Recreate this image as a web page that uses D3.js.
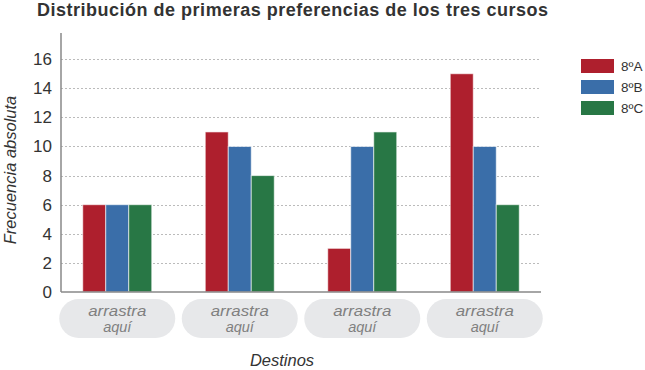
<!DOCTYPE html>
<html>
<head>
<meta charset="utf-8">
<script src="https://cdn.jsdelivr.net/npm/d3@7"></script>
<style>
  body { margin: 0; background: #fff; }
  text { font-family: "Liberation Sans", Arial, sans-serif; }
</style>
</head>
<body>
<div id="chart"></div>
<script>
// data
var destinos = ["d1", "d2", "d3", "d4"];
var cursos = ["8ºA", "8ºB", "8ºC"];
var valoresA = [6, 11, 3, 15];
var valoresB = [6, 10, 10, 10];
var valoresC = [6, 8, 11, 6];
var yTicks = [0, 2, 4, 6, 8, 10, 12, 14, 16];
var colores = ["#ae1f2d", "#3a6ea9", "#287745"];

var series = [valoresA, valoresB, valoresC];

var svgWidth = 645;
var svgHeight = 370;

var svg = d3.select("#chart")
  .append("svg")
  .attr("width", svgWidth)
  .attr("height", svgHeight);

// plot area
var plotLeft = 61, plotRight = 541, plotTop = 33, plotBottom = 292;

var x0 = d3.scaleBand()
  .domain(destinos)
  .range([56, 546])
  .padding(0);

var x1 = d3.scaleBand()
  .domain(d3.range(cursos.length))
  .range([0, 69])
  .padding(0);

var y = d3.scaleLinear()
  .domain([0, 17.8])
  .range([plotBottom, plotTop]);

// title
svg.append("text")
  .attr("x", 37)
  .attr("y", 16)
  .attr("font-size", "18px")
  .attr("font-weight", "bold")
  .attr("fill", "#333")
  .attr("textLength", 511)
  .attr("lengthAdjust", "spacing")
  .text("Distribución de primeras preferencias de los tres cursos");

// grid lines
svg.append("g")
  .selectAll("line")
  .data(yTicks.slice(1))
  .enter()
  .append("line")
  .attr("x1", plotLeft)
  .attr("x2", plotRight)
  .attr("y1", d => Math.round(y(d)) + 0.5)
  .attr("y2", d => Math.round(y(d)) + 0.5)
  .attr("stroke", "#bbb")
  .attr("stroke-dasharray", "2,2");

// y axis
var leftAxis = d3.axisLeft(y)
  .tickValues(yTicks)
  .tickSize(0)
  .tickPadding(9);

var yAxis = svg.append("g")
  .attr("transform", `translate(${plotLeft}, 0)`)
  .call(leftAxis);
yAxis.select(".domain").remove();
yAxis.selectAll("text")
  .attr("font-size", "17px")
  .attr("fill", "#333")
  .attr("font-family", "'Liberation Sans', Arial, sans-serif");

// bars
svg.append("g")
  .selectAll("g")
  .data(destinos)
  .enter()
  .append("g")
  .attr("transform", d => `translate(${x0(d) + x0.bandwidth() / 2 - 34.5}, 0)`)
  .selectAll("rect")
  .data((d, i) => series.map((s, j) => ({ j: j, v: s[i] })))
  .enter()
  .append("rect")
  .attr("x", d => x1(d.j))
  .attr("y", d => y(d.v))
  .attr("width", x1.bandwidth())
  .attr("height", d => y(0) - y(d.v))
  .attr("fill", d => colores[d.j])
  .attr("stroke", "rgba(255,255,255,0.6)")
  .attr("stroke-width", 1);

// axis lines
svg.append("line")
  .attr("x1", plotLeft).attr("x2", plotLeft)
  .attr("y1", plotTop).attr("y2", plotBottom)
  .attr("stroke", "#888").attr("stroke-width", 1.5);
svg.append("line")
  .attr("x1", plotLeft).attr("x2", plotRight)
  .attr("y1", plotBottom).attr("y2", plotBottom)
  .attr("stroke", "#888").attr("stroke-width", 1.5);

// drop zones
var pills = svg.append("g")
  .selectAll("g")
  .data(destinos)
  .enter()
  .append("g")
  .attr("transform", d => `translate(${x0(d) + x0.bandwidth() / 2}, 0)`);

pills.append("rect")
  .attr("x", -58)
  .attr("y", 299)
  .attr("width", 116)
  .attr("height", 39)
  .attr("rx", 19.5)
  .attr("fill", "#e7e8ea");

pills.append("text")
  .attr("y", 316)
  .attr("text-anchor", "middle")
  .attr("font-size", "14.5px")
  .attr("font-style", "italic")
  .attr("fill", "#808080")
  .attr("textLength", 58)
  .attr("lengthAdjust", "spacingAndGlyphs")
  .text("arrastra");

pills.append("text")
  .attr("y", 332)
  .attr("text-anchor", "middle")
  .attr("font-size", "14.5px")
  .attr("font-style", "italic")
  .attr("fill", "#808080")
  .text("aquí");

// axis titles
svg.append("text")
  .attr("transform", "translate(16, 170) rotate(-90)")
  .attr("text-anchor", "middle")
  .attr("font-size", "16.5px")
  .attr("font-style", "italic")
  .attr("fill", "#333")
  .text("Frecuencia absoluta");

svg.append("text")
  .attr("x", 282)
  .attr("y", 366)
  .attr("text-anchor", "middle")
  .attr("font-size", "16.5px")
  .attr("font-style", "italic")
  .attr("fill", "#333")
  .text("Destinos");

// legend
var legend = svg.append("g")
  .selectAll("g")
  .data(cursos)
  .enter()
  .append("g")
  .attr("transform", (d, i) => `translate(581, ${59 + i * 21})`);

legend.append("rect")
  .attr("width", 33)
  .attr("height", 14)
  .attr("fill", (d, i) => colores[i]);

legend.append("text")
  .attr("x", 40)
  .attr("y", 12)
  .attr("font-size", "13.5px")
  .attr("fill", "#333")
  .text(d => d);
</script>
</body>
</html>
